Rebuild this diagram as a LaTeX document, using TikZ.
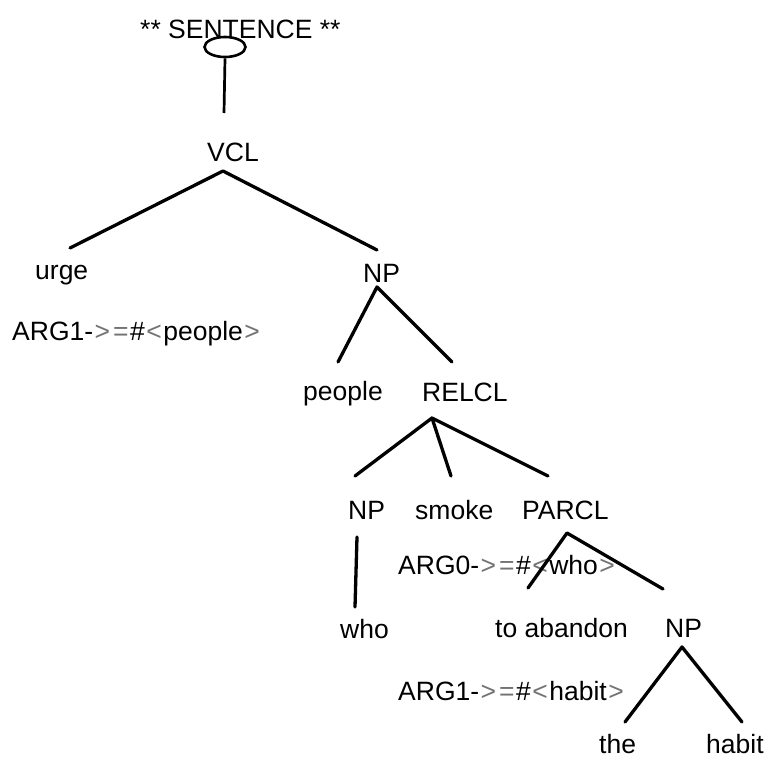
\documentclass[tikz,border=0pt]{standalone}
\usepackage{fontspec}
\setmainfont{Liberation Sans}
\usetikzlibrary{shapes.geometric}
\begin{document}
\begin{tikzpicture}[x=1pt,y=-1pt,
  lbl/.style={anchor=base west,inner sep=0pt,font=\fontsize{26.5}{30}\selectfont},
  branch/.style={line width=3.3pt,line cap=round,line join=round}]
\useasboundingbox (0,0) rectangle (771,760);
\newcommand{\sym}[1]{\kern1.5pt{\color{black!55}#1}\kern1.5pt}
\newcommand{\argtext}[2]{ARG#1-\sym{>}\sym{=}\#\sym{<}#2\sym{>}}

% labels
\node[lbl] (sent)   at (140,39)  {** SENTENCE **};
\node[lbl] (vcl)    at (207,161) {VCL};
\node[lbl] (urge)   at (35,279)  {urge};
\node[lbl] (arg1a)  at (12,340)  {\argtext{1}{people}};
\node[lbl] (np1)    at (363,282) {NP};
\node[lbl] (people) at (303,400) {people};
\node[lbl] (relcl)  at (422,401) {RELCL};
\node[lbl] (np2)    at (348,519) {NP};
\node[lbl] (smoke)  at (415,519) {smoke};
\node[lbl] (parcl)  at (522,519) {PARCL};
\node[lbl] (arg0)   at (398,574) {\argtext{0}{who}};
\node[lbl] (who)    at (340,638) {who};
\node[lbl] (toab)   at (495,637) {to abandon};
\node[lbl] (np3)    at (665,637) {NP};
\node[lbl] (arg1b)  at (398,700) {\argtext{1}{habit}};
\node[lbl] (the)    at (599,753) {the};
\node[lbl] (habit)  at (706,753) {habit};

% root marker
\node[draw,line width=2.6pt,ellipse,minimum width=41pt,minimum height=20pt,inner sep=0pt] (root) at (225,47) {};

% branch points
\coordinate (vcl-f)   at (224,113);
\coordinate (vcl-a)   at (223,171);
\coordinate (urge-f)  at (70,248);
\coordinate (np1-f)   at (377,250);
\coordinate (np1-a)   at (377,287);
\coordinate (peo-f)   at (338,362);
\coordinate (rel-f)   at (452,362);
\coordinate (rel-a)   at (432,418);
\coordinate (np2-f)   at (355,476);
\coordinate (smk-f)   at (451,476);
\coordinate (par-f)   at (548,476);
\coordinate (np2-a)   at (357,537);
\coordinate (who-f)   at (355,607);
\coordinate (par-a)   at (567,533);
\coordinate (toab-f)  at (528,588);
\coordinate (np3-f)   at (663,589);
\coordinate (np3-a)   at (682,647);
\coordinate (the-f)   at (625,722);
\coordinate (hab-f)   at (742,722);

% connectors
\draw[line width=2.7pt] (root.south) -- (vcl-f);
\draw[branch] (urge-f) -- (vcl-a) -- (np1-f);
\draw[branch] (peo-f) -- (np1-a) -- (rel-f);
\draw[branch] (np2-f) -- (rel-a) -- (par-f);
\draw[branch] (rel-a) -- (smk-f);
\draw[branch] (np2-a) -- (who-f);
\draw[branch] (toab-f) -- (par-a) -- (np3-f);
\draw[branch] (the-f) -- (np3-a) -- (hab-f);
\end{tikzpicture}
\end{document}
